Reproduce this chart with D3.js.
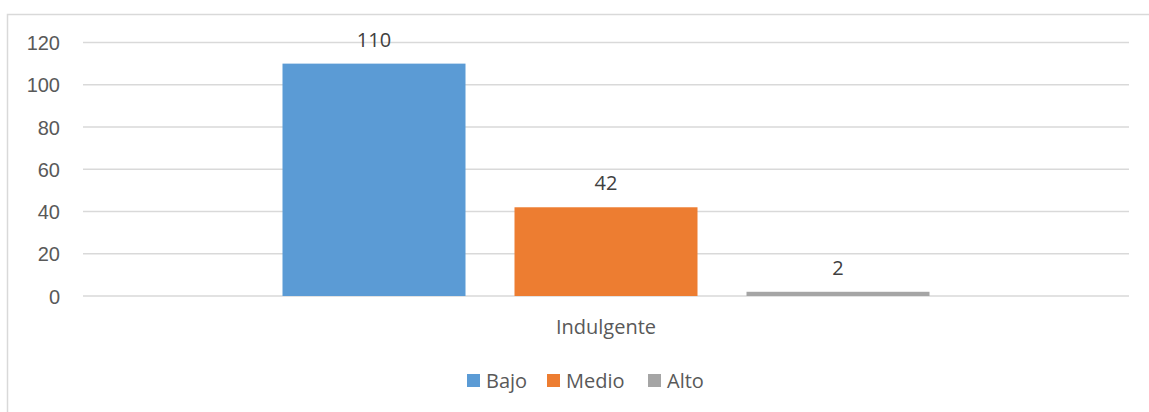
<!DOCTYPE html>
<html>
<head>
<meta charset="utf-8">
<style>
  body { margin: 0; background: #fff; }
  svg { display: block; font-family: "Open Sans", "Liberation Sans", sans-serif; }
  .tick text { fill: #595959; font-size: 20px; }
</style>
</head>
<body>
<script src="https://d3js.org/d3.v7.min.js"></script>
<svg id="chart" width="1149" height="412"></svg>
<script>
var categories = ["Indulgente"];
var series = ["Bajo", "Medio", "Alto"];
var values = [110, 42, 2];
var colors = ["#5B9BD5", "#ED7D31", "#A5A5A5"];
var yTicks = [0, 20, 40, 60, 80, 100, 120];

var svg = d3.select("#chart");

// chart area border (right/bottom edges run off the picture)
svg.append("rect")
  .attr("x", 7.5).attr("y", 14.5)
  .attr("width", 1160).attr("height", 420)
  .attr("fill", "none")
  .attr("stroke", "#d9d9d9")
  .attr("stroke-width", 1.5);

var plotLeft = 83, plotRight = 1129, plotTop = 42.5, plotBottom = 296;

var y = d3.scaleLinear().domain([0, 120]).range([plotBottom, plotTop]);
var x0 = d3.scaleBand().domain(categories).range([plotLeft, plotRight]).paddingInner(0).paddingOuter(0);
// bars 183 wide, 49 gap, centered in the band
var x1 = d3.scaleBand().domain(series)
  .range([199.5, x0.bandwidth() - 199.5])
  .paddingInner(49 / 232).paddingOuter(0);

// gridlines
svg.append("g")
  .selectAll("line")
  .data(yTicks)
  .enter().append("line")
  .attr("x1", plotLeft).attr("x2", plotRight)
  .attr("y1", function(d) { return y(d); })
  .attr("y2", function(d) { return y(d); })
  .attr("stroke", "#d9d9d9")
  .attr("stroke-width", 1.5);

// y axis labels
var yAxis = svg.append("g")
  .attr("transform", "translate(" + (plotLeft - 23) + ",0)")
  .call(d3.axisLeft(y).tickValues(yTicks).tickSize(0).tickPadding(0));
yAxis.select(".domain").remove();
yAxis.selectAll("text").attr("dy", "0.35em");

var data = series.map(function(s, i) { return {name: s, value: values[i], color: colors[i]}; });

var g = svg.append("g").attr("transform", "translate(" + x0(categories[0]) + ",0)");

g.selectAll("rect")
  .data(data)
  .enter().append("rect")
  .attr("x", function(d) { return x1(d.name); })
  .attr("y", function(d) { return y(d.value); })
  .attr("width", x1.bandwidth())
  .attr("height", function(d) { return y(0) - y(d.value); })
  .attr("fill", function(d) { return d.color; });

g.selectAll(".lbl")
  .data(data)
  .enter().append("text")
  .attr("class", "lbl")
  .attr("x", function(d) { return x1(d.name) + x1.bandwidth() / 2; })
  .attr("y", function(d) { return y(d.value) - 17; })
  .attr("text-anchor", "middle")
  .style("font-size", "20px")
  .style("fill", "#404040")
  .text(function(d) { return d.value; });

// category label
svg.append("text")
  .attr("x", x0(categories[0]) + x0.bandwidth() / 2)
  .attr("y", 334)
  .attr("text-anchor", "middle")
  .style("font-size", "20px")
  .style("fill", "#595959")
  .text(categories[0]);

// legend
var legendX = [467, 547, 648];
var legend = svg.append("g").selectAll("g")
  .data(data)
  .enter().append("g")
  .attr("transform", function(d, i) { return "translate(" + legendX[i] + ",374)"; });

legend.append("rect")
  .attr("width", 13).attr("height", 13)
  .attr("fill", function(d) { return d.color; });

legend.append("text")
  .attr("x", 19).attr("y", 6.5)
  .attr("dy", "0.35em")
  .style("font-size", "20px")
  .style("fill", "#595959")
  .text(function(d) { return d.name; });
</script>
</body>
</html>
